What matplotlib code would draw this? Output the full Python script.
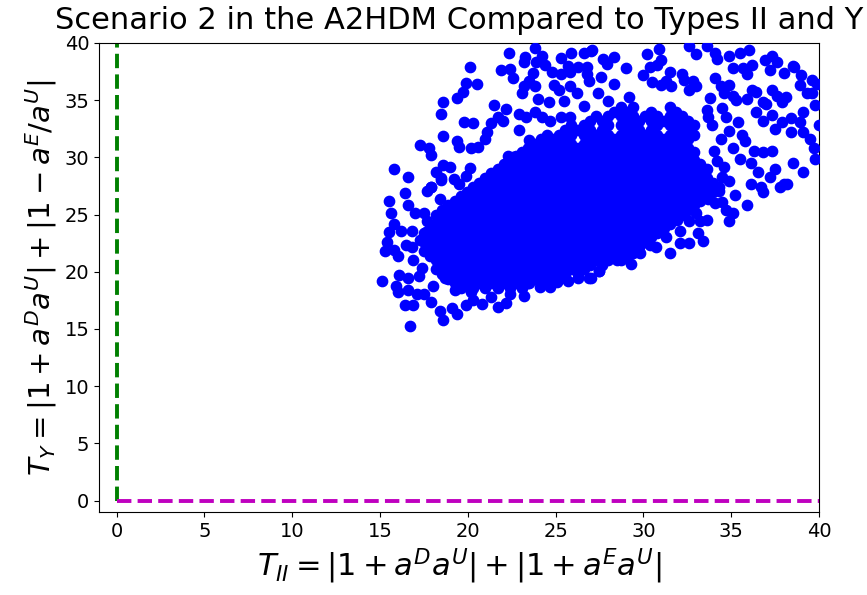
import numpy as np
import matplotlib
matplotlib.use("Agg")
import matplotlib.pyplot as plt

# sparse points around the edge of the cloud (T_II, T_Y)
edge_pts = [
    (23.85, 39.6), (22.36, 39.1), (23.25, 38.8), (23.2, 38.3), (24.2, 38.9),
    (23.9, 38.3), (24.4, 38.1), (25.3, 38.7), (25.9, 39.1), (26.6, 39.1),
    (27.0, 39.3), (20.1, 37.9), (21.9, 37.6), (22.4, 37.7), (22.6, 36.9),
    (23.7, 37.4), (24.8, 37.5), (25.3, 37.3), (25.8, 37.5), (25.7, 38.0),
    (26.3, 37.9), (26.8, 37.9), (19.9, 36.5), (20.5, 36.4), (19.7, 35.7),
    (19.4, 35.2), (18.6, 34.8), (18.5, 33.8), (21.5, 34.6), (22.2, 34.2),
    (23.5, 36.7), (23.8, 36.2), (23.2, 36.2), (23.1, 35.6), (24.9, 36.3),
    (25.2, 35.9), (25.8, 36.2), (26.2, 35.6), (26.9, 36.7), (26.8, 37.3),
    (19.8, 33.1), (20.3, 33.0), (21.3, 33.0), (21.1, 32.2), (21.7, 33.5),
    (22.0, 33.2), (22.9, 33.8), (23.3, 33.5), (23.8, 34.0), (24.2, 33.5),
    (24.7, 33.2), (25.3, 33.5), (25.8, 33.5), (18.6, 31.9), (17.3, 31.1),
    (17.8, 30.8), (17.9, 30.2), (15.8, 29.0), (16.6, 28.3), (18.6, 29.3),
    (19.0, 29.2), (18.2, 28.7), (18.5, 28.2), (19.4, 31.4), (19.5, 30.9),
    (20.2, 30.8), (20.6, 30.9), (20.1, 29.1), (19.9, 28.4), (19.2, 28.1),
    (19.5, 27.7), (17.9, 27.4), (22.9, 32.4), (23.5, 31.5), (23.6, 30.6),
    (22.6, 30.0), (22.3, 30.1), (22.8, 29.3), (24.6, 34.8), (25.5, 34.9),
    (26.6, 34.5), (24.0, 35.1), (27.4, 35.6), (28.3, 36.4), (29.2, 35.3),
    (27.6, 37.0), (29.0, 37.8), (33.8, 35.2), (28.0, 34.9), (21.0, 31.6),
    (27.1, 39.4), (27.7, 38.6), (28.3, 38.8), (27.9, 38.2), (30.2, 39.0),
    (30.9, 39.5), (31.0, 38.5), (30.8, 38.1), (30.4, 37.9), (32.6, 39.7),
    (33.0, 39.0), (33.6, 39.7), (34.1, 39.1), (34.2, 38.6), (34.9, 38.9),
    (35.5, 39.1), (36.0, 39.4), (36.9, 38.5), (37.3, 38.9), (37.6, 38.3),
    (36.2, 38.1), (35.7, 37.8), (35.9, 37.3), (37.2, 37.6), (38.0, 37.4),
    (38.5, 38.0), (38.6, 37.9), (35.1, 37.8), (39.0, 37.2), (39.6, 36.8),
    (39.9, 36.4), (38.9, 36.3), (31.5, 37.5), (32.2, 37.3), (32.3, 36.8),
    (30.0, 37.2), (30.5, 36.6), (31.3, 36.7), (31.0, 36.3), (31.6, 36.2),
    (32.8, 36.7), (33.0, 36.2), (32.6, 35.9), (34.1, 36.9), (34.4, 36.2),
    (34.9, 36.3), (34.6, 35.6), (35.1, 35.4), (35.3, 35.0), (36.2, 35.9),
    (36.4, 35.7), (37.3, 35.9), (37.6, 35.4), (37.9, 34.8), (38.1, 35.3),
    (35.9, 35.1), (36.8, 34.8), (37.0, 34.7), (39.3, 35.6), (39.6, 35.6),
    (39.8, 34.6), (39.1, 34.0), (33.6, 34.1), (33.7, 33.5), (34.5, 34.3),
    (34.7, 33.5), (35.4, 33.1), (36.4, 34.0), (36.8, 33.2), (37.3, 33.7),
    (37.9, 33.1), (38.4, 33.4), (37.5, 32.5), (38.4, 32.2), (38.9, 33.1),
    (39.1, 32.2), (39.5, 31.6), (40.0, 32.8), (39.7, 30.8), (39.8, 29.9),
    (37.5, 29.0), (38.5, 29.5), (39.1, 28.7), (35.1, 30.8), (35.8, 31.4),
    (36.3, 30.6), (36.8, 30.5), (37.3, 30.6), (35.5, 29.9), (36.1, 29.5),
    (36.5, 28.7), (37.2, 28.3), (36.7, 27.4), (36.1, 27.7), (38.0, 27.7),
    (37.8, 27.4), (34.9, 27.9), (34.5, 28.3), (34.6, 29.2), (34.2, 29.7),
    (34.4, 31.6), (34.9, 32.3), (33.9, 32.8), (35.6, 32.0), (34.0, 30.6),
    (38.2, 27.7), (36.8, 27.0), (35.9, 25.8), (34.9, 24.4), (35.1, 25.1),
    (34.7, 25.4), (34.3, 27.1), (34.1, 26.0), (34.5, 26.1), (33.6, 24.5),
    (33.2, 24.4), (33.4, 22.7), (33.1, 23.4), (32.6, 22.5), (32.1, 22.5),
    (31.5, 21.6), (31.3, 23.0), (30.7, 22.2), (30.4, 22.3), (29.8, 21.6),
    (29.3, 20.7), (29.7, 22.3), (29.4, 21.6), (29.0, 21.7), (28.5, 21.0),
    (27.5, 20.1), (27.0, 19.5), (32.1, 23.6), (31.9, 24.5), (32.6, 24.4),
    (33.0, 25.1), (33.7, 26.4), (35.2, 26.7),
    (15.1, 19.2), (16.7, 15.3), (16.4, 17.1), (16.9, 17.1), (16.0, 18.2),
    (15.9, 18.8), (16.6, 18.4), (15.3, 21.8), (15.4, 22.6), (15.8, 21.9),
    (16.0, 21.4), (15.5, 23.5), (15.8, 24.2), (16.2, 23.6), (16.8, 23.6),
    (15.5, 26.2), (15.6, 25.1), (16.4, 26.9), (16.6, 25.8), (17.0, 25.1),
    (16.5, 22.3), (16.8, 22.2), (16.9, 21.0), (17.3, 22.8), (16.1, 19.7),
    (16.6, 19.5), (17.1, 18.1), (17.5, 18.1), (17.7, 27.1), (17.9, 27.4),
    (18.5, 28.0), (18.4, 26.4), (17.5, 25.1), (17.7, 24.4), (17.6, 23.5),
    (17.9, 17.4), (18.4, 16.6), (18.6, 15.8), (19.1, 16.8), (19.4, 16.3),
    (19.9, 17.1), (20.3, 17.5), (20.8, 17.2), (21.7, 16.9), (22.2, 17.3),
    (23.2, 17.9), (23.5, 19.0), (24.1, 18.7), (24.7, 18.7), (25.1, 19.1),
    (25.7, 19.2), (26.3, 19.5), (26.9, 19.5), (27.5, 20.1), (18.7, 19.5),
    (19.3, 18.4), (20.2, 18.2), (21.3, 17.8), (17.4, 20.3), (17.2, 19.6),
    (18.0, 18.8), (22.4, 18.1),
]

# dense core of the cloud, one row of T_II values per T_Y level
core_y = [18.6, 19.0, 19.4, 19.8, 20.2, 20.6, 21.0, 21.4, 21.8, 22.2, 22.6,
          23.0, 23.4, 23.8, 24.2, 24.6, 25.0, 25.4, 25.8, 26.2, 26.6, 27.0,
          27.4, 27.8, 28.2, 28.6, 29.0, 29.4, 29.8, 30.15, 30.5, 30.85, 31.2,
          31.6, 32.0, 32.4, 32.8, 33.2, 33.6, 34.0, 34.4]
core_x = [
    [19.6, 20.3, 21.0, 21.7, 22.4, 23.1],
    [19.25, 19.95, 20.65, 21.35, 22.05, 22.75, 23.45, 24.15],
    [18.9, 19.6, 20.3, 21.0, 21.7, 22.4, 23.1, 23.8, 24.5, 25.2],
    [18.55, 19.25, 19.95, 20.65, 21.35, 22.05, 22.75, 23.45, 24.15, 24.85,
     25.55, 26.25],
    [18.2, 18.9, 19.6, 20.3, 21.0, 21.7, 22.4, 23.1, 23.8, 24.5, 25.2, 25.9, 26.6],
    [18.55, 19.25, 19.95, 20.65, 21.35, 22.05, 22.75, 23.45, 24.15, 24.85,
     25.55, 26.25, 26.95, 27.65],
    [18.2, 18.9, 19.6, 20.3, 21.0, 21.7, 22.4, 23.1, 23.8, 24.5, 25.2, 25.9,
     26.6, 27.3, 28.0, 28.7],
    [17.85, 18.55, 19.25, 19.95, 20.65, 21.35, 22.05, 22.75, 23.45, 24.15,
     24.85, 25.55, 26.25, 26.95, 27.65, 28.35, 29.05],
    [17.5, 18.2, 18.9, 19.6, 20.3, 21.0, 21.7, 22.4, 23.1, 23.8, 24.5, 25.2,
     25.9, 26.6, 27.3, 28.0, 28.7, 29.4],
    [17.85, 18.55, 19.25, 19.95, 20.65, 21.35, 22.05, 22.75, 23.45, 24.15,
     24.85, 25.55, 26.25, 26.95, 27.65, 28.35, 29.05, 29.75],
    [17.5, 18.2, 18.9, 19.6, 20.3, 21.0, 21.7, 22.4, 23.1, 23.8, 24.5, 25.2,
     25.9, 26.6, 27.3, 28.0, 28.7, 29.4, 30.1],
    [17.85, 18.55, 19.25, 19.95, 20.65, 21.35, 22.05, 22.75, 23.45, 24.15,
     24.85, 25.55, 26.25, 26.95, 27.65, 28.35, 29.05, 29.75, 30.45],
    [17.5, 18.2, 18.9, 19.6, 20.3, 21.0, 21.7, 22.4, 23.1, 23.8, 24.5, 25.2,
     25.9, 26.6, 27.3, 28.0, 28.7, 29.4, 30.1, 30.8],
    [17.85, 18.55, 19.25, 19.95, 20.65, 21.35, 22.05, 22.75, 23.45, 24.15,
     24.85, 25.55, 26.25, 26.95, 27.65, 28.35, 29.05, 29.75, 30.45, 31.15],
    [18.2, 18.9, 19.6, 20.3, 21.0, 21.7, 22.4, 23.1, 23.8, 24.5, 25.2, 25.9,
     26.6, 27.3, 28.0, 28.7, 29.4, 30.1, 30.8, 31.5],
    [18.55, 19.25, 19.95, 20.65, 21.35, 22.05, 22.75, 23.45, 24.15, 24.85,
     25.55, 26.25, 26.95, 27.65, 28.35, 29.05, 29.75, 30.45, 31.15, 31.85],
    [18.2, 18.9, 19.6, 20.3, 21.0, 21.7, 22.4, 23.1, 23.8, 24.5, 25.2, 25.9,
     26.6, 27.3, 28.0, 28.7, 29.4, 30.1, 30.8, 31.5, 32.2],
    [18.55, 19.25, 19.95, 20.65, 21.35, 22.05, 22.75, 23.45, 24.15, 24.85,
     25.55, 26.25, 26.95, 27.65, 28.35, 29.05, 29.75, 30.45, 31.15, 31.85, 32.55],
    [18.9, 19.6, 20.3, 21.0, 21.7, 22.4, 23.1, 23.8, 24.5, 25.2, 25.9, 26.6,
     27.3, 28.0, 28.7, 29.4, 30.1, 30.8, 31.5, 32.2, 32.9],
    [19.25, 19.95, 20.65, 21.35, 22.05, 22.75, 23.45, 24.15, 24.85, 25.55,
     26.25, 26.95, 27.65, 28.35, 29.05, 29.75, 30.45, 31.15, 31.85, 32.55, 33.25],
    [19.6, 20.3, 21.0, 21.7, 22.4, 23.1, 23.8, 24.5, 25.2, 25.9, 26.6, 27.3,
     28.0, 28.7, 29.4, 30.1, 30.8, 31.5, 32.2, 32.9, 33.6],
    [19.95, 20.65, 21.35, 22.05, 22.75, 23.45, 24.15, 24.85, 25.55, 26.25,
     26.95, 27.65, 28.35, 29.05, 29.75, 30.45, 31.15, 31.85, 32.55, 33.25, 33.95],
    [20.3, 21.0, 21.7, 22.4, 23.1, 23.8, 24.5, 25.2, 25.9, 26.6, 27.3, 28.0,
     28.7, 29.4, 30.1, 30.8, 31.5, 32.2, 32.9, 33.6, 34.3],
    [20.65, 21.35, 22.05, 22.75, 23.45, 24.15, 24.85, 25.55, 26.25, 26.95,
     27.65, 28.35, 29.05, 29.75, 30.45, 31.15, 31.85, 32.55, 33.25, 33.95],
    [21.0, 21.7, 22.4, 23.1, 23.8, 24.5, 25.2, 25.9, 26.6, 27.3, 28.0, 28.7,
     29.4, 30.1, 30.8, 31.5, 32.2, 32.9, 33.6],
    [21.35, 22.05, 22.75, 23.45, 24.15, 24.85, 25.55, 26.25, 26.95, 27.65,
     28.35, 29.05, 29.75, 30.45, 31.15, 31.85, 32.55, 33.25],
    [21.7, 22.4, 23.1, 23.8, 24.5, 25.2, 25.9, 26.6, 27.3, 28.0, 28.7, 29.4,
     30.1, 30.8, 31.5, 32.2, 32.9, 33.6],
    [22.05, 22.75, 23.45, 24.15, 24.85, 25.55, 26.25, 26.95, 27.65, 28.35,
     29.05, 29.75, 30.45, 31.15, 31.85, 32.55, 33.25],
    [22.4, 23.1, 23.8, 24.5, 25.2, 25.9, 26.6, 27.3, 28.0, 28.7, 29.4, 30.1,
     30.8, 31.5, 32.2, 32.9],
    [22.75, 23.45, 24.15, 24.85, 25.55, 26.25, 26.95, 27.65, 28.35, 29.05,
     29.75, 30.45, 31.15, 31.85, 32.55],
    [23.1, 23.8, 24.5, 25.2, 25.9, 26.6, 27.3, 28.0, 28.7, 29.4, 30.1, 30.8,
     31.5, 32.2, 32.9],
    [23.45, 24.15, 24.85, 25.55, 26.25, 26.95, 27.65, 28.35, 29.05, 29.75,
     30.45, 31.15, 31.85, 32.55],
    [23.8, 24.5, 25.2, 25.9, 26.6, 27.3, 28.0, 28.7, 29.4, 30.1, 30.8, 31.5, 32.2],
    [24.15, 24.85, 25.55, 26.95, 27.65, 28.35, 29.05, 29.75, 30.45, 31.15,
     31.85, 32.55],
    [24.5, 25.2, 25.9, 26.6, 27.3, 28.0, 28.7, 29.4, 30.1, 30.8, 31.5, 32.2, 32.9],
    [25.55, 26.25, 26.95, 27.65, 29.05, 29.75, 30.45, 31.85, 32.55],
    [25.9, 26.6, 28.0, 28.7, 29.4, 30.8, 31.5, 32.2, 32.9],
    [26.95, 27.65, 29.05, 29.75, 30.45, 31.15, 31.85, 32.55],
    [27.3, 28.0, 28.7, 29.4, 30.1, 30.8, 31.5, 32.2],
    [28.35, 29.05, 30.45, 31.85],
    [28.7, 29.4, 31.5],
]

ticks = [0, 5, 10, 15, 20, 25, 30, 35, 40]

t2 = [p[0] for p in edge_pts]
ty = [p[1] for p in edge_pts]
for yv, row in zip(core_y, core_x):
    t2 += row
    ty += [yv] * len(row)

fig = plt.figure(figsize=(8.67, 5.95), dpi=100)
ax = fig.add_axes([99/867, 1 - 512/595, 720/867, 469/595])

ax.scatter(t2, ty, s=55, c='b', zorder=3)
ax.plot([0, 0], [0, 40], 'g--', lw=2.8)
ax.plot([0, 40], [0, 0], 'm--', lw=2.8)

ax.set_xlim(-1, 40)
ax.set_ylim(-1, 40)
ax.set_xticks(ticks)
ax.set_yticks(ticks)
ax.tick_params(labelsize=14)
ax.set_xlabel(r'$T_{II} = |1 + a^D a^U| + |1 + a^E a^U|$', fontsize=22)
ax.set_ylabel(r'$T_Y = |1 + a^D a^U| + |1 - a^E/a^U|$', fontsize=21)
ax.set_title('Scenario 2 in the A2HDM Compared to Types II and Y', fontsize=22, pad=10)

fig.savefig('out.png', dpi=100)
